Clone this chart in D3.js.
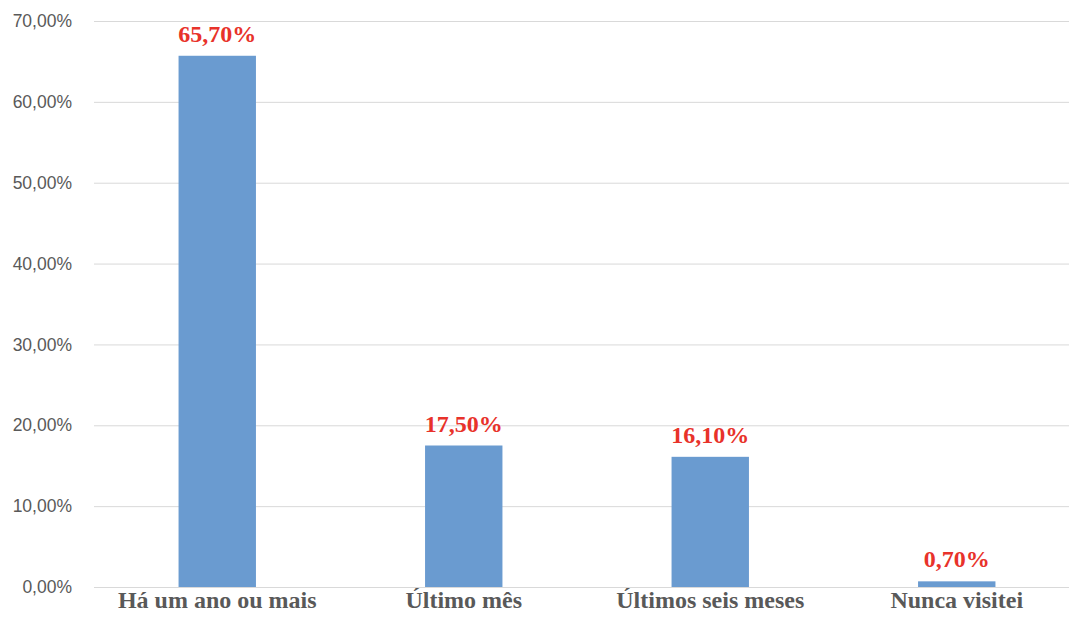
<!DOCTYPE html>
<html>
<head>
<meta charset="utf-8">
<script src="https://cdn.jsdelivr.net/npm/d3@7"></script>
<style>
  body { margin: 0; background: #fff; }
  .grid line { stroke: #d9d9d9; stroke-width: 1; }
  .grid path { display: none; }
  .y.axis text { font-family: "Liberation Sans", Arial, sans-serif; font-size: 17.5px; fill: #595959; }
  .x.axis text { font-family: "Liberation Serif", "Times New Roman", serif; font-size: 24px; font-weight: bold; fill: #595959; }
  .label { font-family: "Liberation Serif", "Times New Roman", serif; font-size: 24px; font-weight: bold; fill: #e8322a; }
</style>
</head>
<body>
<svg width="1069" height="625"></svg>
<script>
// respostas (percentual)
var categories = ["Há um ano ou mais", "Último mês", "Últimos seis meses", "Nunca visitei"];
var values = [65.7, 17.5, 16.1, 0.7];
var yTicks = [0, 10, 20, 30, 40, 50, 60, 70];

var fmt = function (v) { return v.toFixed(2).replace(".", ",") + "%"; };

var svg = d3.select("svg");

var x = d3.scaleBand()
  .domain(categories)
  .range([94, 1080])
  .paddingInner(0.686)
  .paddingOuter(0.343);

var y = d3.scaleLinear()
  .domain([0, 70])
  .range([587, 21]);

// grid lines
svg.append("g")
  .attr("class", "grid")
  .attr("transform", "translate(94,0)")
  .call(d3.axisLeft(y).tickValues(yTicks).tickSize(-1000).tickFormat(""));

// y axis labels
svg.append("g")
  .attr("class", "y axis")
  .attr("transform", "translate(94,0)")
  .call(d3.axisLeft(y).tickValues(yTicks).tickSize(0).tickPadding(22).tickFormat(fmt))
  .call(function (g) { g.select(".domain").remove(); });

// bars
svg.selectAll(".bar")
  .data(values)
  .enter().append("rect")
  .attr("class", "bar")
  .attr("fill", "#6a9bd0")
  .attr("x", function (d, i) { return x(categories[i]); })
  .attr("width", x.bandwidth())
  .attr("y", function (d) { return y(d); })
  .attr("height", function (d) { return y(0) - y(d); });

// value labels
svg.selectAll(".label")
  .data(values)
  .enter().append("text")
  .attr("class", "label")
  .attr("text-anchor", "middle")
  .attr("x", function (d, i) { return x(categories[i]) + x.bandwidth() / 2; })
  .attr("y", function (d) { return y(d) - 14; })
  .text(fmt);

// x axis labels
svg.append("g")
  .attr("class", "x axis")
  .attr("transform", "translate(0,587)")
  .call(d3.axisBottom(x).tickSize(0).tickPadding(4))
  .call(function (g) { g.select(".domain").remove(); });
</script>
</body>
</html>
